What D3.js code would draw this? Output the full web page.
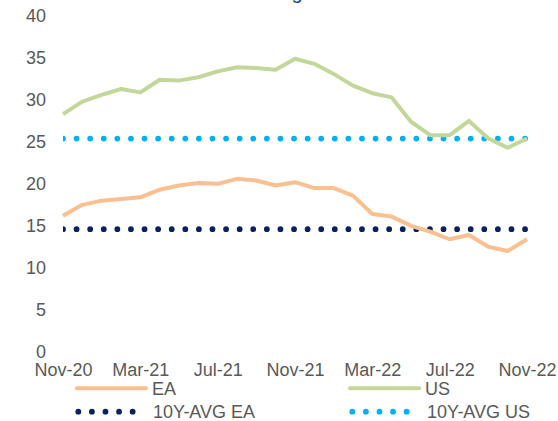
<!DOCTYPE html>
<meta charset="utf-8">
<script src="https://d3js.org/d3.v7.min.js"></script>
<style>
  body { margin: 0; background: #fff; }
  text { font-family: "Liberation Sans", Arial, sans-serif; }
</style>
<body>
<div id="chart"></div>
<script>

// data
var months = ["Nov-20","Dec-20","Jan-21","Feb-21","Mar-21","Apr-21","May-21","Jun-21","Jul-21",
  "Aug-21","Sep-21","Oct-21","Nov-21","Dec-21","Jan-22","Feb-22","Mar-22","Apr-22","May-22",
  "Jun-22","Jul-22","Aug-22","Sep-22","Oct-22","Nov-22"]
var ea = [16.2,17.5,18.0,18.2,18.4,19.3,19.8,20.1,20.0,20.6,20.4,19.8,20.2,19.5,19.5,18.6,
  16.4,16.1,15.0,14.3,13.4,13.9,12.5,12.0,13.4]
var us = [28.3,29.8,30.6,31.3,30.9,32.4,32.3,32.7,33.4,33.9,33.8,33.6,34.9,34.3,33.1,31.7,
  30.8,30.3,27.4,25.8,25.8,27.5,25.4,24.3,25.4]
var avgEA = 14.6
var avgUS = 25.4
var yTicks = [0,5,10,15,20,25,30,35,40]
var xTicks = ["Nov-20","Mar-21","Jul-21","Nov-21","Mar-22","Jul-22","Nov-22"]

var width = 558, height = 421
var grey = "#595959"

var svg = d3.select("#chart")
  .append("svg")
    .attr("width", width)
    .attr("height", height)

var x = d3.scalePoint().domain(months).range([63, 527])
var y = d3.scaleLinear().domain([0, 40]).range([351.7, 16])

// title (only the bottom of it shows in the picture)
svg.append("text")
  .attr("x", 297)
  .attr("y", -1)
  .attr("text-anchor", "middle")
  .style("font-size", "20px")
  .style("fill", "#1f3fa0")
  .text("g")

// y axis
var yAxis = svg.append("g")
  .attr("transform", "translate(46,0)")
  .call(d3.axisLeft(y).tickValues(yTicks).tickSize(0).tickPadding(0).tickFormat(d3.format("d")))
yAxis.select(".domain").remove()
yAxis.selectAll("text")
  .style("font-size", "18px")
  .style("fill", grey)
  .style("font-family", "Liberation Sans, Arial, sans-serif")

// x axis
var xAxis = svg.append("g")
  .attr("transform", "translate(0," + y(0) + ")")
  .call(d3.axisBottom(x).tickValues(xTicks).tickSize(0).tickPadding(12))
xAxis.select(".domain").remove()
xAxis.selectAll("text")
  .style("font-size", "18px")
  .style("fill", grey)
  .style("font-family", "Liberation Sans, Arial, sans-serif")

// clip so the first dot is cut in half like the original
svg.append("clipPath").attr("id", "plotclip")
  .append("rect").attr("x", 63).attr("y", 0).attr("width", 495).attr("height", 360)

// average lines (round dots)
var avgs = [{v: avgUS, c: "#00b0f0"}, {v: avgEA, c: "#0b2060"}]
svg.selectAll(".avg")
  .data(avgs)
  .enter()
  .append("line")
    .attr("class", "avg")
    .attr("clip-path", "url(#plotclip)")
    .attr("x1", x(months[0]))
    .attr("x2", x(months[months.length - 1]) + 1)
    .attr("y1", function(d){ return y(d.v) })
    .attr("y2", function(d){ return y(d.v) })
    .attr("stroke", function(d){ return d.c })
    .attr("stroke-width", 5.8)
    .attr("stroke-linecap", "round")
    .attr("stroke-dasharray", "0,13.59")

// series lines
var line = d3.line()
  .x(function(d, i){ return x(months[i]) })
  .y(function(d){ return y(d) })

var series = [{vals: us, c: "#c4d79b"}, {vals: ea, c: "#fac090"}]
svg.selectAll(".series")
  .data(series)
  .enter()
  .append("path")
    .attr("class", "series")
    .attr("d", function(d){ return line(d.vals) })
    .attr("fill", "none")
    .attr("stroke", function(d){ return d.c })
    .attr("stroke-width", 4)
    .attr("stroke-linejoin", "round")

// legend
var legend = [
  {name: "EA", c: "#fac090", dot: false, lx: 77, ly: 388.3},
  {name: "US", c: "#c4d79b", dot: false, lx: 350, ly: 388.3},
  {name: "10Y-AVG EA", c: "#0b2060", dot: true, lx: 77, ly: 411.7},
  {name: "10Y-AVG US", c: "#00b0f0", dot: true, lx: 351, ly: 411.7}
]
var lg = svg.selectAll(".lg")
  .data(legend)
  .enter()
  .append("g")
    .attr("class", "lg")

lg.append("line")
  .attr("x1", function(d){ return d.dot ? d.lx + 1.3 : d.lx })
  .attr("x2", function(d){ return d.dot ? d.lx + 57 : d.lx + 69 })
  .attr("y1", function(d){ return d.ly })
  .attr("y2", function(d){ return d.ly })
  .attr("stroke", function(d){ return d.c })
  .attr("stroke-width", function(d){ return d.dot ? 5.8 : 4 })
  .attr("stroke-linecap", "round")
  .attr("stroke-dasharray", function(d){ return d.dot ? "0,13.59" : null })

lg.append("text")
  .attr("x", function(d){ return d.dot ? d.lx + 76 : d.lx + 75 })
  .attr("y", function(d){ return d.ly })
  .attr("dy", "0.35em")
  .text(function(d){ return d.name })
  .style("font-size", "18px")
  .style("fill", grey)

</script>
</body>
